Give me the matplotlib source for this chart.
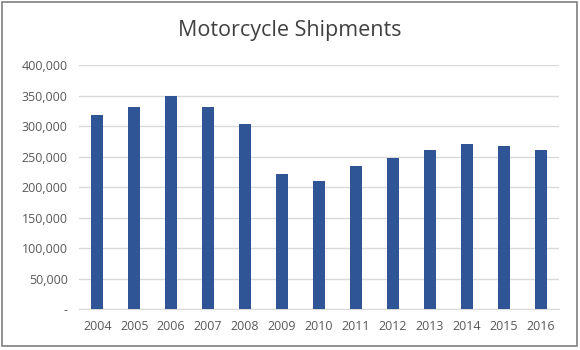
import matplotlib.pyplot as plt
from matplotlib.patches import Rectangle
from matplotlib.ticker import FuncFormatter

# 年份與出貨量
years = ['2004', '2005', '2006', '2007', '2008', '2009', '2010',
         '2011', '2012', '2013', '2014', '2015', '2016']
shipments = [318000, 331000, 349000, 331000, 303000, 222000, 210000,
             234000, 248000, 261000, 271000, 267000, 261000]

plt.rcParams['font.family'] = ['Open Sans', 'DejaVu Sans']

fig = plt.figure(figsize=(5.8, 3.5), dpi=100)
ax = fig.add_axes([0.136, 0.117, 0.828, 0.697])

ax.bar(range(len(years)), shipments, width=0.33, color='#2F5597', zorder=3)

ax.set_xlim(-0.5, len(years) - 0.5)
ax.set_ylim(0, 400000)
ax.set_yticks(range(0, 400001, 50000))
ax.yaxis.set_major_formatter(FuncFormatter(lambda v, p: '-' if v == 0 else f'{int(v):,}'))
ax.set_xticks(range(len(years)))
ax.set_xticklabels(years)

ax.grid(axis='y', color='#D9D9D9', linewidth=1, zorder=0)
for s in ['top', 'right', 'left']:
    ax.spines[s].set_visible(False)
ax.spines['bottom'].set_color('#D9D9D9')
ax.tick_params(length=0, labelsize=9, labelcolor='#595959')
ax.tick_params(axis='x', pad=8)
ax.tick_params(axis='y', pad=8)

fig.text(0.5, 0.913, 'Motorcycle Shipments', ha='center', va='center',
         fontsize=15.5, color='#404040')

# 外框
fig.patches.append(Rectangle((0.004, 0.012), 0.99, 0.982, transform=fig.transFigure,
                             fill=False, edgecolor='#7F7F7F', linewidth=1.2))

fig.savefig('out.png', dpi=100)
